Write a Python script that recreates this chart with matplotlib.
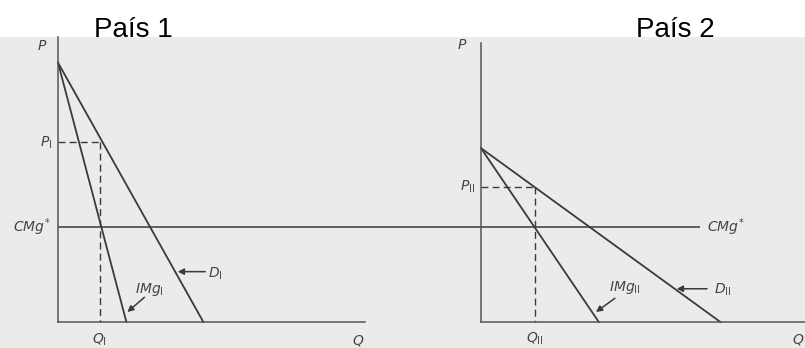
import matplotlib.pyplot as plt
from matplotlib.patches import Rectangle

# ----------- Data (1 unit ~ 9.5 px) -----------
cmg = 10.0                      # CMg* (same in both countries)

# País 1
p_max1 = 27.3                   # common price intercept of D and IMg
d_q1 = 15.3                     # D_I hits Q axis
img_q1 = 7.2                    # IMg_I hits Q axis
q_eq1 = 4.4                     # Q_I
p_eq1 = 18.9                    # P_I

# País 2
p_max2 = 18.3
d_q2 = 25.2
img_q2 = 12.4
q_eq2 = 5.7
p_eq2 = 14.2

scale = 9.5
line_col = '#3a3a3a'
axis_col = '#555555'
txt_col = '#444444'
bg_col = '#ebebeb'

fig = plt.figure(figsize=(8.05, 3.48), dpi=100)
fig.patch.set_facecolor('white')

# scanned page background (covers lower part of the titles)
fig.patches.append(Rectangle((0, 0), 1, 1 - 37 / 348, transform=fig.transFigure,
                             facecolor=bg_col, edgecolor='none', zorder=-1))
fig.text(133 / 805, 1 - 30 / 348, 'País 1', fontsize=20, family='Liberation Sans',
         ha='center', va='center', zorder=-2)
fig.text(675 / 805, 1 - 30 / 348, 'País 2', fontsize=20, family='Liberation Sans',
         ha='center', va='center', zorder=-2)


def make_axes(left_px, width_px, origin_px):
    ax = fig.add_axes([left_px / 805, 0, width_px / 805, 1])
    ax.set_xlim((left_px - origin_px) / scale, (left_px + width_px - origin_px) / scale)
    ax.set_ylim((322 - 348) / scale, 322 / scale)
    ax.patch.set_alpha(0)
    for s in ['top', 'right']:
        ax.spines[s].set_visible(False)
    for s in ['left', 'bottom']:
        ax.spines[s].set_position(('data', 0))
        ax.spines[s].set_color(axis_col)
        ax.spines[s].set_linewidth(1.1)
    ax.set_xticks([])
    ax.set_yticks([])
    return ax


def panel(ax, p_max, d_q, img_q, q_eq, p_eq, y_top, x_end, cmg_x):
    ax.spines['left'].set_bounds(0, y_top)
    ax.spines['bottom'].set_bounds(0, x_end)
    ax.plot([0, d_q], [p_max, 0], color=line_col, lw=1.3)
    ax.plot([0, img_q], [p_max, 0], color=line_col, lw=1.3)
    ax.plot(cmg_x, [cmg, cmg], color=line_col, lw=1.1, clip_on=False,
            solid_capstyle='butt')
    ax.plot([0, q_eq], [p_eq, p_eq], color=line_col, lw=1.0, ls=(0, (5, 3)))
    ax.plot([q_eq, q_eq], [p_eq, 0], color=line_col, lw=1.0, ls=(0, (5, 3)))


def label(ax, x, y, s, **kw):
    kw.setdefault('ha', 'center')
    ax.text(x, y, s, fontsize=10, color=txt_col, style='italic', va='center', **kw)


def arrow(ax, tail, head):
    ax.annotate('', xy=head, xytext=tail,
                arrowprops=dict(arrowstyle='-|>', color=line_col, lw=1.1,
                                mutation_scale=9, shrinkA=0, shrinkB=0))


# ----------- País 1 -----------
ax1 = make_axes(0, 400, 58)
panel(ax1, p_max1, d_q1, img_q1, q_eq1, p_eq1, 30.0, 32.3, [0, 36.0])
label(ax1, -1.7, 29.1, r'$P$')
label(ax1, -0.6, p_eq1, r'$P_{\mathrm{I}}$', ha='right')
label(ax1, -0.8, cmg, r'$CMg^{*}$', ha='right')
label(ax1, q_eq1, -1.9, r'$Q_{\mathrm{I}}$')
label(ax1, 31.6, -1.9, r'$Q$')
arrow(ax1, (15.5, 5.3), (12.6, 5.3))
label(ax1, 15.8, 5.1, r'$D_{\mathrm{I}}$', ha='left')
label(ax1, 9.6, 3.4, r'$IMg_{\mathrm{I}}$')
arrow(ax1, (9.1, 2.6), (7.3, 1.05))

# ----------- País 2 -----------
ax2 = make_axes(400, 405, 481)
panel(ax2, p_max2, d_q2, img_q2, q_eq2, p_eq2, 29.4, 34.2, [-8.5, 23.05])
label(ax2, -2.0, 29.2, r'$P$')
label(ax2, -0.6, p_eq2, r'$P_{\mathrm{II}}$', ha='right')
label(ax2, 23.8, cmg, r'$CMg^{*}$', ha='left')
label(ax2, q_eq2, -1.8, r'$Q_{\mathrm{II}}$')
label(ax2, 33.4, -1.8, r'$Q$')
arrow(ax2, (23.8, 3.5), (20.6, 3.5))
label(ax2, 24.5, 3.4, r'$D_{\mathrm{II}}$', ha='left')
label(ax2, 15.1, 3.6, r'$IMg_{\mathrm{II}}$')
arrow(ax2, (14.1, 2.5), (12.1, 1.05))

plt.savefig('out.png', dpi=100)
plt.close()
